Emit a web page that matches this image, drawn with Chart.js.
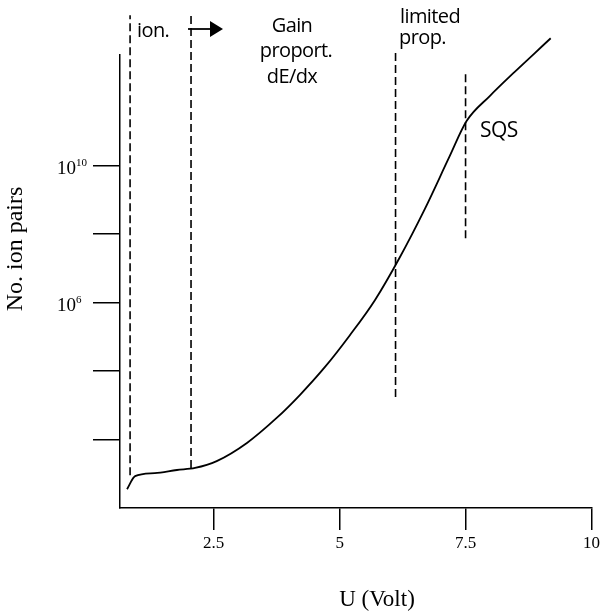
<!DOCTYPE html>
<html>
<head>
<meta charset="utf-8">
<script src="https://cdn.jsdelivr.net/npm/chart.js@4.4.0/dist/chart.umd.min.js"></script>
<style>
  html, body { margin: 0; padding: 0; background: #fff; }
</style>
</head>
<body>
<canvas id="myChart" width="603" height="615"></canvas>
<script>
// curve (voltage, log10 of ion pairs)
const voltage = [0.78, 0.94, 1.33, 1.77, 2.13, 2.56, 3.16, 3.75, 4.21, 4.71, 5.20, 5.70, 6.19, 6.69, 7.18, 7.52, 7.98, 8.47, 8.87, 9.19];
const ionPairsLog = [0.55, 0.93, 1.02, 1.11, 1.17, 1.37, 1.90, 2.63, 3.30, 4.12, 5.04, 6.07, 7.31, 8.73, 10.26, 11.30, 12.03, 12.73, 13.28, 13.72];

// dashed region boundaries
const boundaryVoltage = [0.84, 2.05, 6.11, 7.50];
const boundaryBottomLog = [0.96, 1.17, 3.24, 7.88];
const boundaryTopLog = [14.39, 14.39, 13.31, 12.70];

const xTicks = [2.5, 5, 7.5, 10];
const yTicks = [1e2, 1e4, 1e6, 1e8, 1e10];
const yTickLabels = [[1e6, '10', '6'], [1e10, '10', '10']];
const yMaxLog = 13.23;

const ctx = document.getElementById('myChart');

let curve = voltage.map((v, i) => ({ x: v, y: Math.pow(10, ionPairsLog[i]) }));

let datasets = [{
    data: curve,
    borderColor: '#000',
    borderWidth: 1.8,
    pointRadius: 0,
    cubicInterpolationMode: 'monotone',
    clip: false
}];

boundaryVoltage.forEach((v, i) => {
    datasets.push({
        data: [{ x: v, y: Math.pow(10, boundaryBottomLog[i]) }, { x: v, y: Math.pow(10, boundaryTopLog[i]) }],
        borderColor: '#000',
        borderWidth: 1.6,
        borderDash: [8, 4],
        pointRadius: 0,
        clip: false
    });
});

const textPlugin = {
    id: 'texts',
    afterDraw(chart) {
        const c = chart.ctx;
        c.save();
        c.fillStyle = '#000';
        c.strokeStyle = '#000';

        // y tick labels with superscript exponents
        const ys = chart.scales.y;
        yTickLabels.forEach(([v, base, exp]) => {
            const py = ys.getPixelForValue(v);
            c.textBaseline = 'alphabetic';
            c.font = '19px "Liberation Serif"';
            c.textAlign = 'right';
            c.fillText(base, 76, py + 8);
            c.font = '11px "Liberation Serif"';
            c.textAlign = 'left';
            c.fillText(exp, 76, py);
        });

        // axis titles
        c.font = '23px "Liberation Serif"';
        c.textAlign = 'center';
        c.textBaseline = 'middle';
        c.fillText('U (Volt)', 377, 600);
        c.save();
        c.translate(16, 249);
        c.rotate(-Math.PI / 2);
        c.font = '24px "Liberation Serif"';
        c.fillText('No. ion pairs', 0, 0);
        c.restore();

        // region labels
        c.font = '20px "Open Sans"';
        c.letterSpacing = '-0.6px';
        c.textBaseline = 'alphabetic';
        c.textAlign = 'left';
        c.fillText('ion.', 137, 37);
        c.textAlign = 'center';
        c.fillText('Gain', 292, 32);
        c.fillText('proport.', 296, 57);
        c.fillText('dE/dx', 292, 83);
        c.textAlign = 'left';
        c.fillText('limited', 400, 23);
        c.fillText('prop.', 399, 44);
        c.font = '21px "Open Sans"';
        c.fillText('SQS', 480, 137);
        c.letterSpacing = '0px';

        // arrow after the second boundary
        const x0 = chart.scales.x.getPixelForValue(boundaryVoltage[1]);
        c.lineWidth = 1.8;
        c.beginPath();
        c.moveTo(x0 - 3, 29);
        c.lineTo(x0 + 22, 29);
        c.stroke();
        c.beginPath();
        c.moveTo(x0 + 32, 29);
        c.lineTo(x0 + 19, 21);
        c.lineTo(x0 + 19, 37);
        c.closePath();
        c.fill();
        c.restore();
    }
};

const myChart = new Chart(ctx, {
    type: 'line',
    data: { datasets: datasets },
    options: {
        responsive: false,
        animation: false,
        devicePixelRatio: 1,
        events: [],
        layout: { padding: { top: 55, right: 11, left: 0, bottom: 0 } },
        plugins: { legend: { display: false }, tooltip: { enabled: false } },
        scales: {
            x: {
                type: 'linear',
                min: 0.64,
                max: 10,
                afterBuildTicks: s => { s.ticks = xTicks.map(v => ({ value: v })); },
                afterFit: s => { s.height = 107; },
                ticks: {
                    callback: v => String(v),
                    font: { family: 'Liberation Serif', size: 17 },
                    color: '#000',
                    padding: 3,
                    maxRotation: 0,
                    autoSkip: false
                },
                grid: { drawOnChartArea: false, tickLength: 22, color: '#000', lineWidth: 1.5 },
                border: { color: '#000', width: 1.5 }
            },
            y: {
                type: 'logarithmic',
                min: 1,
                max: Math.pow(10, yMaxLog),
                afterBuildTicks: s => { s.ticks = yTicks.map(v => ({ value: v })); },
                afterFit: s => { s.width = 120; },
                ticks: {
                    callback: () => '',
                    color: '#000',
                    padding: 2,
                    autoSkip: false
                },
                grid: { drawOnChartArea: false, tickLength: 27, color: '#000', lineWidth: 1.5 },
                border: { color: '#000', width: 1.5 }
            }
        }
    },
    plugins: [textPlugin]
});
</script>
</body>
</html>
